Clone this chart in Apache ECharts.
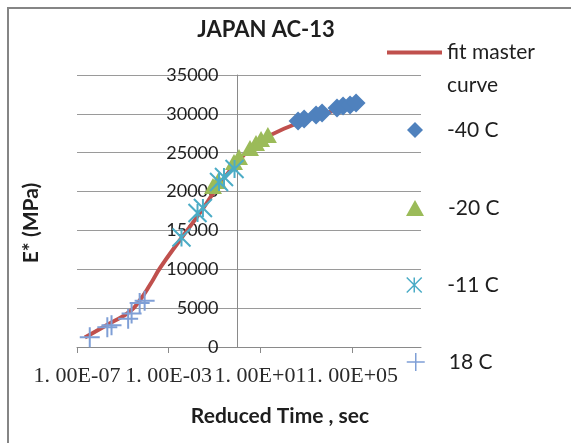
<!DOCTYPE html>
<html>
<head>
<meta charset="utf-8">
<script src="https://cdn.jsdelivr.net/npm/echarts@6/dist/echarts.min.js"></script>
<style>
  html, body { margin: 0; padding: 0; background: #fff; }
  #chart { width: 571px; height: 443px; }
</style>
</head>
<body>
<div id="chart"></div>
<script>
// Dynamic modulus master curve, JAPAN AC-13
const chartTitle = 'JAPAN AC-13';
const xTitle = 'Reduced Time , sec';
const yTitle = 'E* (MPa)';

// x axis (log scale) ticks and their labels
const xTicks = [1e-7, 1e-3, 1e1, 1e5];
const xTickLabels = ['1. 00E-07', '1. 00E-03', '1. 00E+01', '1. 00E+05'];

// fitted master curve
const fitTime    = [2.2e-7, 2.75e-6, 2.0e-5, 5.6e-5, 1.6e-4, 4.2e-4, 3.1e-3, 2.3e-2, 0.124, 0.92, 9.5, 263, 7800, 1.3e5];
const fitModulus = [1220, 3050, 4550, 6050, 8100, 10170, 13770, 17250, 20420, 23680, 26420, 28570, 30080, 31400];

// measured points, by test temperature
const time40 = [435, 800, 2650, 4840, 21800, 40000, 80500, 147000];
const mod40  = [29090, 29340, 29860, 30120, 30760, 31020, 31150, 31400];

const time20 = [0.085, 0.141, 0.70, 1.16, 3.5, 6.4, 10.6, 21];
const mod20  = [20720, 21360, 23810, 24450, 25610, 26250, 26770, 27280];

const time11 = [3.6e-3, 1.8e-2, 3.1e-2, 0.156, 0.257, 0.74];
const mod11  = [14090, 17250, 17890, 21240, 21880, 22910];

const time18 = [3.6e-7, 2.1e-6, 3.2e-6, 1.7e-5, 2.4e-5, 5.4e-5, 8.9e-5];
const mod18  = [1250, 2535, 2790, 3640, 4310, 5660, 5960];

const seriesNames = ['fit master curve', '-40 C', '-20 C', '-11 C', '18 C'];

const zip = (a, b) => a.map((v, i) => [v, b[i]]);

const ASTERISK = 'path://M0,0L12,12M12,0L0,12M6,0L6,12';
const PLUS = 'path://M0,6L12,6M6,0L6,12';

const sansFont = 'Lato';
const textColor = '#1e1e1e';

function legendAt(name, left, cy, extra) {
  const base = {
    data: [name],
    left: left,
    top: cy - 11,
    padding: 0,
    itemWidth: 14,
    itemHeight: 14,
    selectedMode: false,
    textStyle: {
      fontFamily: sansFont, fontSize: 21, color: textColor,
      lineHeight: 22, padding: [0, 0, 0, 19]
    }
  };
  return Object.assign(base, extra || {});
}

const chart = echarts.init(document.getElementById('chart'), null, { renderer: 'canvas' });

chart.setOption({
  backgroundColor: '#ffffff',
  animation: false,
  grid: { left: 77, right: 150, top: 75, bottom: 96, containLabel: false },
  xAxis: {
    type: 'log',
    logBase: 10,
    min: 1e-7,
    max: 1e8,
    axisLine: { show: true, lineStyle: { color: '#8a8a8a', width: 1 } },
    axisTick: { show: true, length: 6, customValues: xTicks, lineStyle: { color: '#8a8a8a' } },
    axisLabel: {
      customValues: xTicks,
      showMinLabel: true,
      showMaxLabel: true,
      hideOverlap: false,
      margin: 18,
      fontFamily: 'Liberation Serif',
      fontSize: 22,
      color: '#2a2a2a',
      formatter: function (v) {
        const i = xTicks.findIndex(t => Math.abs(Math.log10(t) - Math.log10(v)) < 1e-6);
        return i >= 0 ? xTickLabels[i] : '';
      }
    },
    splitLine: { show: false },
    minorTick: { show: false },
    minorSplitLine: { show: false }
  },
  yAxis: {
    type: 'value',
    min: 0,
    max: 35000,
    interval: 5000,
    offset: -160.5,
    axisLine: { show: true, onZero: false, lineStyle: { color: '#8a8a8a', width: 1 } },
    axisTick: { show: false },
    axisLabel: {
      margin: 19, fontFamily: sansFont, fontSize: 18, color: textColor,
      formatter: v => String(v)
    },
    splitLine: { show: true, lineStyle: { color: '#9a9a9a', width: 1 } }
  },
  legend: [
    legendAt(seriesNames[0], 387, 54.5, {
      top: 54.5 - 51.5,
      icon: 'rect',
      itemWidth: 55,
      itemHeight: 4,
      itemStyle: { color: '#C0504D', borderWidth: 0 },
      // leading empty line puts "fit master" level with the line icon
      formatter: () => '\nfit master\ncurve',
      textStyle: {
        fontFamily: sansFont, fontSize: 21, color: textColor,
        lineHeight: 33, padding: 0
      }
    }),
    legendAt(seriesNames[1], 407, 130, { itemWidth: 16, itemHeight: 16 }),
    legendAt(seriesNames[2], 406, 208, { itemWidth: 18, itemHeight: 16 }),
    legendAt(seriesNames[3], 406, 285, { itemWidth: 18, itemHeight: 15,
      itemStyle: { color: 'transparent', borderColor: '#4BACC6', borderWidth: 1.5 } }),
    legendAt(seriesNames[4], 406, 362, { itemWidth: 18, itemHeight: 18,
      itemStyle: { color: 'transparent', borderColor: '#7F9FD6', borderWidth: 1.5 } })
  ],
  graphic: [
    {
      type: 'rect', silent: true, z: 100,
      shape: { x: 8, y: 8, width: 700, height: 600 },
      style: { fill: 'none', stroke: '#858585', lineWidth: 2 }
    },
    {
      type: 'text', x: 266, y: 30, silent: true,
      style: { text: chartTitle, font: 'bold 22px Lato', fill: textColor, align: 'center', verticalAlign: 'middle' }
    },
    {
      type: 'text', x: 280, y: 416, silent: true,
      style: { text: xTitle, font: 'bold 21px Lato', fill: textColor, align: 'center', verticalAlign: 'middle' }
    },
    {
      type: 'text', x: 31, y: 223, rotation: Math.PI / 2, silent: true,
      style: { text: yTitle, font: 'bold 21px Lato', fill: textColor, align: 'center', verticalAlign: 'middle' }
    }
  ],
  series: [
    {
      name: seriesNames[0],
      type: 'line',
      data: zip(fitTime, fitModulus),
      smooth: 0.5,
      symbol: 'none',
      showSymbol: false,
      lineStyle: { color: '#C0504D', width: 4 },
      itemStyle: { color: '#C0504D' },
      z: 2
    },
    {
      name: seriesNames[1],
      type: 'scatter',
      data: zip(time40, mod40),
      symbol: 'diamond',
      symbolSize: 19,
      itemStyle: { color: '#4F81BD', opacity: 1 },
      z: 3
    },
    {
      name: seriesNames[2],
      type: 'scatter',
      data: zip(time20, mod20),
      symbol: 'triangle',
      symbolSize: [18, 16],
      itemStyle: { color: '#9BBB59', opacity: 1 },
      z: 3
    },
    {
      name: seriesNames[3],
      type: 'scatter',
      data: zip(time11, mod11),
      symbol: ASTERISK,
      symbolSize: 18,
      itemStyle: { color: 'transparent', borderColor: '#4BACC6', borderWidth: 2, opacity: 1 },
      z: 4
    },
    {
      name: seriesNames[4],
      type: 'scatter',
      data: zip(time18, mod18),
      symbol: PLUS,
      symbolSize: 20,
      itemStyle: { color: 'transparent', borderColor: '#7F9FD6', borderWidth: 2, opacity: 1 },
      z: 4
    }
  ]
});
</script>
</body>
</html>
